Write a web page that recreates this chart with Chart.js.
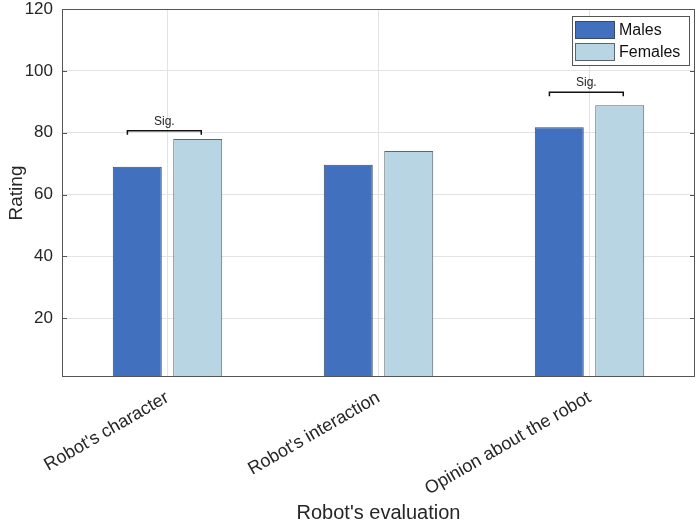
<!DOCTYPE html>
<html lang="en">
<head>
    <meta charset="UTF-8">
    <title>Robot's evaluation</title>
    <script src="https://cdn.jsdelivr.net/npm/chart.js"></script>
    <style>
        body { margin: 0; padding: 0; background: #fff; }
        #wrap { width: 700px; height: 527px; }
    </style>
</head>
<body>
<div id="wrap"><canvas id="ratingChart" width="700" height="527"></canvas></div>
<script>
    // Data
    const categories = ["Robot's character", "Robot's interaction", "Opinion about the robot"];
    const males = [69.0, 69.6, 81.8];
    const females = [78.0, 74.1, 88.9];
    const yTicks = [20, 40, 60, 80, 100, 120];
    // significance brackets: category index and bracket height (rating units)
    const sigCategory = [0, 2];
    const sigLevel = [80.6, 93.1];

    const FONT = "'Liberation Sans', Arial, sans-serif";
    const AXIS = '#555555';

    // box around the plot + small inward ticks, like the original
    const boxPlugin = {
        id: 'box',
        afterDraw(chart) {
            const a = chart.chartArea, y = chart.scales.y, c = chart.ctx;
            c.save();
            c.strokeStyle = AXIS;
            c.lineWidth = 1;
            c.strokeRect(a.left + 0.5, a.top + 0.5, a.right - a.left - 1, a.bottom - a.top - 1);
            yTicks.forEach(v => {
                const py = Math.round(y.getPixelForValue(v)) + 0.5;
                c.beginPath();
                c.moveTo(a.left, py); c.lineTo(a.left + 5, py);
                c.moveTo(a.right, py); c.lineTo(a.right - 5, py);
                c.stroke();
            });
            c.restore();
        }
    };

    // "Sig." brackets
    const sigPlugin = {
        id: 'sig',
        afterDatasetsDraw(chart) {
            const x = chart.scales.x, y = chart.scales.y, c = chart.ctx;
            const w = x.getPixelForValue(1) - x.getPixelForValue(0);
            c.save();
            c.strokeStyle = '#111';
            c.lineWidth = 1.5;
            c.fillStyle = '#222';
            c.font = '12px ' + FONT;
            c.textAlign = 'center';
            c.textBaseline = 'bottom';
            sigCategory.forEach((ci, k) => {
                const cx = x.getPixelForValue(ci);
                const x0 = cx - 0.19 * w, x1 = cx + 0.16 * w;
                const py = y.getPixelForValue(sigLevel[k]);
                c.beginPath();
                c.moveTo(x0, py + 4); c.lineTo(x0, py); c.lineTo(x1, py); c.lineTo(x1, py + 4);
                c.stroke();
                c.fillText('Sig.', (x0 + x1) / 2, py - 3);
            });
            c.restore();
        }
    };

    // legend box in the top right corner of the plot
    const legendPlugin = {
        id: 'boxLegend',
        afterDraw(chart) {
            const a = chart.chartArea, c = chart.ctx;
            const right = a.right - 6, top = a.top + 7;
            const left = right - 117, bottom = top + 49;
            c.save();
            c.fillStyle = '#fff';
            c.fillRect(left, top, right - left, bottom - top);
            c.strokeStyle = AXIS;
            c.lineWidth = 1;
            c.strokeRect(left + 0.5, top + 0.5, right - left, bottom - top);
            c.font = '16px ' + FONT;
            c.textBaseline = 'middle';
            chart.data.datasets.forEach((ds, i) => {
                const cy = top + 14 + i * 22;
                c.fillStyle = ds.backgroundColor;
                c.fillRect(left + 3, cy - 9, 40, 18);
                c.strokeStyle = ds.borderColor;
                c.strokeRect(left + 3.5, cy - 8.5, 39, 17);
                c.fillStyle = '#111';
                c.fillText(ds.label, left + 47, cy + 1);
            });
            c.restore();
        }
    };

    const ctx = document.getElementById('ratingChart').getContext('2d');
    new Chart(ctx, {
        type: 'bar',
        data: {
            labels: categories,
            datasets: [
                {
                    label: 'Males',
                    data: males,
                    backgroundColor: '#4070BE',
                    borderColor: '#3a4a63',
                    borderWidth: 1,
                    categoryPercentage: 0.573,
                    barPercentage: 0.81
                },
                {
                    label: 'Females',
                    data: females,
                    backgroundColor: '#B8D5E4',
                    borderColor: '#5b6670',
                    borderWidth: 1,
                    categoryPercentage: 0.573,
                    barPercentage: 0.81
                }
            ]
        },
        options: {
            responsive: false,
            animation: false,
            layout: { padding: { top: 0, right: 5, left: 0, bottom: 0 } },
            plugins: {
                legend: { display: false },
                tooltip: { enabled: false }
            },
            scales: {
                x: {
                    grid: { offset: false, color: '#e3e3e3', drawTicks: false },
                    border: { display: false },
                    ticks: {
                        minRotation: 30, maxRotation: 30,
                        color: '#262626',
                        padding: 10,
                        font: { family: FONT, size: 18 }
                    },
                    title: {
                        display: true,
                        text: "Robot's evaluation",
                        color: '#262626',
                        font: { family: FONT, size: 20 },
                        padding: { top: 0, bottom: 2 }
                    },
                    afterFit(scale) { scale.height = 150; }
                },
                y: {
                    min: 1,
                    max: 120,
                    afterBuildTicks(axis) { axis.ticks = yTicks.map(v => ({ value: v })); },
                    grid: { color: '#e3e3e3', drawTicks: false },
                    border: { display: false },
                    ticks: {
                        color: '#262626',
                        padding: 9,
                        font: { family: FONT, size: 17 }
                    },
                    title: {
                        display: true,
                        text: 'Rating',
                        color: '#262626',
                        font: { family: FONT, size: 19 },
                        padding: { top: 5, bottom: 0 }
                    },
                    afterFit(scale) {
                        scale.width = 62;
                        scale.paddingTop = 9;
                        scale.paddingBottom = 0;
                    }
                }
            }
        },
        plugins: [boxPlugin, sigPlugin, legendPlugin]
    });
</script>
</body>
</html>
